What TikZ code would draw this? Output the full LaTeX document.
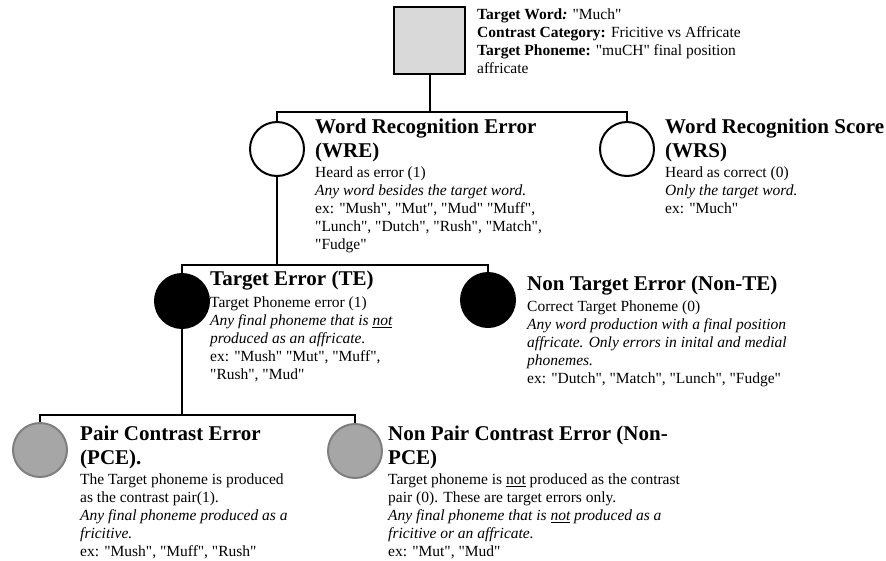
\documentclass[tikz,border=0pt]{standalone}
\usepackage{fontspec}
\setmainfont{Liberation Serif}[Ligatures=TeXOff]
\usetikzlibrary{positioning}
\definecolor{boxgray}{HTML}{D9D9D9}
\definecolor{dotgray}{HTML}{A6A6A6}
\definecolor{rimgray}{HTML}{7F7F7F}

\begin{document}
\begin{tikzpicture}[x=1pt,y=-1pt,
  link/.style={line width=2pt},
  dot/.style={circle,draw,line width=2pt,minimum size=54pt,inner sep=0pt},
  greydot/.style={dot,draw=rimgray,fill=dotgray},
  hd/.style={anchor=north west,inner sep=0pt,align=left,font=\fontsize{21}{23.5}\selectfont\bfseries},
  bd/.style={inner sep=0pt,align=left,font=\fontsize{15.5}{18.1}\selectfont}]
\useasboundingbox (0,0) rectangle (886,560);
% root
\node[draw,line width=2pt,fill=boxgray,minimum width=71pt,minimum height=67pt,inner sep=0pt] (root) at (429.5,40.5) {};
\node[bd,anchor=north west] (rootinfo) at (477,8.5)
  {\textbf{Target Word\textit{:}} "Much"\\
   \textbf{Contrast Category:} Fricitive vs Affricate\\
   \textbf{Target Phoneme:} "muCH" final position\\
   affricate};
% level 1
\node[dot] (wre) at (277,149) {};
\node[dot] (wrs) at (627,149) {};
\node[hd] (wrehd) at (315,119) {Word Recognition Error\\(WRE)};
\node[bd,below right=4.5pt and 0pt of wrehd.south west] (wrebd)
  {Heard as error (1)\\
   \textit{Any word besides the target word.}\\
   ex: "Mush", "Mut", "Mud" "Muff",\\
   "Lunch", "Dutch", "Rush", "Match",\\
   "Fudge"};
\node[hd] (wrshd) at (665,119) {Word Recognition Score\\(WRS)};
\node[bd,below right=4.5pt and 0pt of wrshd.south west] (wrsbd)
  {Heard as correct (0)\\
   \textit{Only the target word.}\\
   ex: "Much"};
% level 2
\node[dot,fill=black] (te) at (182,301) {};
\node[dot,fill=black] (nte) at (488,300) {};
\node[hd] (tehd) at (210,271) {Target Error (TE)};
\node[bd,below right=6pt and 0pt of tehd.south west] (tebd)
  {Target Phoneme error (1)\\
   \textit{Any final phoneme that is \underline{not}}\\
   \textit{produced as an affricate.}\\
   ex: "Mush" "Mut", "Muff",\\
   "Rush", "Mud"};
\node[hd] (ntehd) at (527,276) {Non Target Error (Non-TE)};
\node[bd,below right=4.5pt and 0pt of ntehd.south west] (ntebd)
  {Correct Target Phoneme (0)\\
   \textit{Any word production with a final position}\\
   \textit{affricate. Only errors in inital and medial}\\
   \textit{phonemes.}\\
   ex: "Dutch", "Match", "Lunch", "Fudge"};
% level 3
\node[greydot] (pce) at (40,450) {};
\node[greydot] (npce) at (355,451) {};
\node[hd] (pcehd) at (80,426) {Pair Contrast Error\\(PCE).};
\node[bd,below right=4.5pt and 0pt of pcehd.south west] (pcebd)
  {The Target phoneme is produced\\
   as the contrast pair(1).\\
   \textit{Any final phoneme produced as a}\\
   \textit{fricitive.}\\
   ex: "Mush", "Muff", "Rush"};
\node[hd] (npcehd) at (388,426) {Non Pair Contrast Error (Non-\\PCE)};
\node[bd,below right=4.5pt and 0pt of npcehd.south west] (npcebd)
  {Target phoneme is \underline{not} produced as the contrast\\
   pair (0). These are target errors only.\\
   \textit{Any final phoneme that is \underline{not} produced as a}\\
   \textit{fricitive or an affricate.}\\
   ex: "Mut", "Mud"};
% connectors
\coordinate (j1) at (429.5,112);
\coordinate (j2) at (277,265);
\coordinate (j3) at (182,415);
\draw[link] (root.south) -- (j1);
\draw[link] (wre.north) |- (j1) -| (wrs.north);
\draw[link] (wre.south) -- (j2);
\draw[link] (te.north) |- (j2) -| (nte.north);
\draw[link] (te.south) -- (j3);
\draw[link] (pce.north) |- (j3) -| (npce.north);
\end{tikzpicture}
\end{document}
